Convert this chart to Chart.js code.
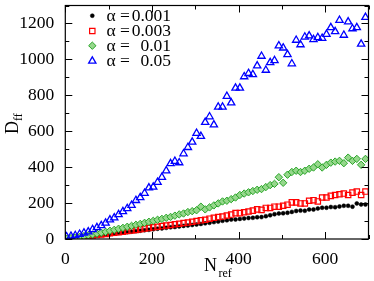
<!DOCTYPE html>
<html><head><meta charset="utf-8">
<script src="https://cdn.jsdelivr.net/npm/chart.js@4/dist/chart.umd.min.js"></script>
<style>html,body{margin:0;padding:0;background:#fff;overflow:hidden}canvas{display:block}</style>
</head><body>
<canvas id="c" width="374" height="281"></canvas>
<script>
// N_ref values (x)
const nRef = [3,13,23,33,43,53,63,73,83,93,103,113,123,133,143,153,163,173,183,193,
  203,213,223,233,243,253,263,273,283,293,303,313,323,333,343,353,363,373,383,393,
  403,413,423,433,443,453,463,473,483,493,503,513,523,533,543,553,563,573,583,593,
  603,613,623,633,643,653,663,673,683,693];
// D_ff series
const d001 = [1,3,6,9,11,14,17,19,22,25,27,30,33,35,38,41,43,46,49,51,54,57,59,62,65,67,70,73,75,78,81,
  84,87,90,94,97,101,104,108,109,112,114,117,118,121,122,127,132,138,142,143,146,151,156,158,157,164,164,170,174,174,178,177,181,185,185,180,198,192,192];
const d003 = [1,4,7,10,13,16,19,22,25,28,32,35,38,41,45,48,51,55,58,61,65,68,72,75,78,82,85,89,92,96,100,
  104,107,113,118,122,125,131,136,144,144,149,153,158,165,162,173,173,180,180,185,191,204,204,198,198,213,216,209,231,231,240,245,249,253,245,258,264,245,264];
const d01 = [2,5,8,12,16,21,25,30,35,40,46,51,57,62,68,73,79,84,90,96,101,107,112,118,123,130,137,142,150,155,160,
  180,165,176,187,198,209,213,222,231,245,253,260,267,274,278,289,300,307,344,313,358,373,380,373,380,391,398,416,398,413,425,431,435,422,453,435,446,413,446];
const d05 = [13,16,20,27,34,40,53,64,75,89,107,118,136,153,170,188,215,231,255,285,289,316,344,380,420,433,425,475,510,540,
  589,572,650,681,636,735,735,795,758,840,840,904,922,916,964,1018,940,982,994,1076,1064,1027,976,1107,1082,1125,1131,1111,1122,1118,
  1140,1177,1155,1218,1135,1209,1171,1177,1085,1234];
const seriesLabels = ['0.001','0.003','0.01','0.05'];
const xTicks = [0,200,400,600];
const yTicks = [0,200,400,600,800,1000,1200];

const pts = ys => nRef.map((x,i)=>({x:x,y:ys[i]}));
const SERIF = "'Liberation Serif','Times New Roman',serif";

const styles = [
  {pointStyle:'circle', pointRadius:2, backgroundColor:'#000', borderColor:'#000', pointBorderWidth:0.5},
  {pointStyle:'rect', pointRadius:3.8, backgroundColor:'rgba(0,0,0,0)', borderColor:'#ff0000', pointBorderWidth:1.2},
  {pointStyle:'rectRot', pointRadius:3.7, backgroundColor:'rgb(150,215,140)', borderColor:'rgb(40,165,40)', pointBorderWidth:1},
  {pointStyle:'triangle', pointRadius:4.2, backgroundColor:'rgba(0,0,0,0)', borderColor:'#0000ff', pointBorderWidth:1.3}
];
const allData = [d001,d003,d01,d05];

function drawMarker(ctx, st, x, y){
  ctx.save();
  ctx.fillStyle = st.backgroundColor; ctx.strokeStyle = st.borderColor; ctx.lineWidth = st.pointBorderWidth;
  const r = st.pointRadius;
  ctx.beginPath();
  if (st.pointStyle==='circle'){ ctx.arc(x,y,r,0,Math.PI*2); }
  else if (st.pointStyle==='rect'){ const s=Math.SQRT1_2*r; ctx.rect(x-s,y-s,2*s,2*s); }
  else if (st.pointStyle==='rectRot'){ ctx.moveTo(x-r,y); ctx.lineTo(x,y-r); ctx.lineTo(x+r,y); ctx.lineTo(x,y+r); ctx.closePath(); }
  else { const xo=Math.cos(Math.PI/6)*r, yo=Math.sin(Math.PI/6)*r; ctx.moveTo(x-xo,y+yo); ctx.lineTo(x,y-r); ctx.lineTo(x+xo,y+yo); ctx.closePath(); }
  ctx.fill(); if (st.pointBorderWidth>0) ctx.stroke();
  ctx.restore();
}

const decor = {
  id:'decor',
  afterDatasetsDraw(chart){
    const ctx = chart.ctx, a = chart.chartArea, xs = chart.scales.x, ys = chart.scales.y;
    ctx.save();
    ctx.strokeStyle = '#000'; ctx.lineWidth = 1.2;
    ctx.strokeRect(a.left, a.top, a.right-a.left, a.bottom-a.top);
    ctx.lineWidth = 1;
    ctx.beginPath();
    for (let v=0; v<=700; v+=100){
      const px = Math.round(xs.getPixelForValue(v))+0.5, L = v%200===0?7:4;
      ctx.moveTo(px,a.bottom); ctx.lineTo(px,a.bottom-L);
      ctx.moveTo(px,a.top); ctx.lineTo(px,a.top+L);
    }
    for (let v=0; v<=1300; v+=100){
      const py = Math.round(ys.getPixelForValue(v))+0.5, L = v%200===0?7:4;
      ctx.moveTo(a.left,py); ctx.lineTo(a.left+L,py);
      ctx.moveTo(a.right,py); ctx.lineTo(a.right-L,py);
    }
    ctx.stroke();
    // axis titles
    ctx.fillStyle = '#000';
    ctx.textBaseline = 'alphabetic'; ctx.textAlign = 'left';
    ctx.font = '18px '+SERIF;
    ctx.fillText('N', 204, 270.5);
    ctx.font = '12px '+SERIF;
    ctx.fillText('ref', 218.5, 277);
    ctx.save();
    ctx.translate(17.5, 134);
    ctx.rotate(-Math.PI/2);
    ctx.font = '18px '+SERIF;
    ctx.fillText('D', 0, 0);
    ctx.font = '12px '+SERIF;
    ctx.fillText('ff', 13, 4.5);
    ctx.restore();
    // legend
    const rows = [15.7, 31, 45.7, 61];
    ctx.textBaseline = 'middle';
    for (let i=0;i<4;i++){
      drawMarker(ctx, styles[i], 92.3, rows[i]);
      ctx.font = '17.5px '+SERIF;
      ctx.textAlign = 'left';
      ctx.fillText('α =', 106.5, rows[i]+0.5);
      ctx.textAlign = 'right';
      ctx.fillText(seriesLabels[i], 171, rows[i]+0.5);
    }
    ctx.restore();
  }
};

new Chart(document.getElementById('c'), {
  type:'scatter',
  data:{datasets: allData.map((d,i)=>Object.assign({label:'α = '+seriesLabels[i], data:pts(d), showLine:false, order:4-i}, styles[i]))},
  options:{
    responsive:false, animation:false, devicePixelRatio:1,
    layout:{padding:{left:0,right:1.7,top:1,bottom:0}},
    plugins:{legend:{display:false}, tooltip:{enabled:false}},
    scales:{
      x:{type:'linear', min:0, max:700,
        grid:{display:false}, border:{display:false},
        ticks:{stepSize:100, autoSkip:false, maxRotation:0, padding:2, color:'#000',
          font:{family:SERIF, size:17.5}, callback:v=> xTicks.includes(v)? String(v):''},
        afterFit(s){ s.height = 42; s.paddingLeft = 0; s.paddingRight = 0; }},
      y:{type:'linear', min:0, max:1300,
        grid:{display:false}, border:{display:false},
        ticks:{stepSize:100, autoSkip:false, padding:3, color:'#000',
          font:{family:SERIF, size:17.5}, callback:v=> yTicks.includes(v)? String(v):''},
        afterFit(s){ s.width = 65.3; s.paddingTop = 0; s.paddingBottom = 0; }}
    }
  },
  plugins:[decor]
});
</script>
</body></html>
